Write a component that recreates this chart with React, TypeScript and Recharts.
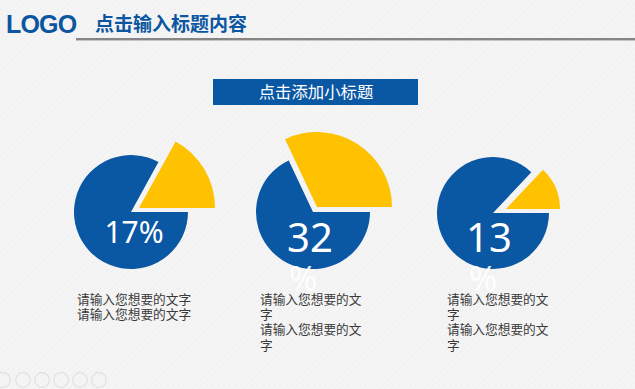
import { PieChart, Pie, Cell } from "recharts";

// values
const highlightShare = [17, 32, 13];
const restShare = [83, 68, 87];
const centerLabels = ["17%", "32", "13"];
const captionLines = [
  ["请输入您想要的文字", "请输入您想要的文字"],
  ["请输入您想要的文", "字", "请输入您想要的文", "字"],
  ["请输入您想要的文", "字", "请输入您想要的文", "字"],
];

const W = 635;
const H = 389;
const BLUE = "#0a57a4";
const YELLOW = "#fec200";

// geometry of each pie (blue body + exploded yellow slice)
const layout = [
  { cx: 131, cy: 212, r: 57, dx: 8, dy: -4, rHi: 76, labelX: 134, labelY: 243, labelSize: 30, ghostX: 0 },
  { cx: 313, cy: 212, r: 57, dx: 4, dy: -5, rHi: 75, labelX: 310, labelY: 252, labelSize: 40, ghostX: 289 },
  { cx: 493, cy: 213, r: 56, dx: 13, dy: -4, rHi: 54, labelX: 489, labelY: 252, labelSize: 40, ghostX: 469 },
];

const captionX = [77, 260, 447];
const navX = [3, 23, 42, 61, 80, 99];

export default function App() {
  const pies = highlightShare.map((v, i) => [
    { name: "highlight", value: v },
    { name: "rest", value: restShare[i] },
  ]);

  return (
    <div
      style={{
        position: "fixed",
        left: 0,
        top: 0,
        width: W,
        height: H,
        overflow: "hidden",
        background: "repeating-linear-gradient(135deg, #f5f5f5 0px, #f5f5f5 2px, #f2f2f2 2px, #f2f2f2 4px)",
      }}
    >
      <PieChart
        width={W}
        height={H}
        margin={{ top: 0, right: 0, bottom: 0, left: 0 }}
        style={{ position: "absolute", left: 0, top: 0 }}
      >
        {pies.flatMap((data, i) => {
          const g = layout[i];
          return [
            <Pie
              key={"body" + i}
              data={data}
              dataKey="value"
              cx={g.cx}
              cy={g.cy}
              outerRadius={g.r}
              innerRadius={0}
              startAngle={0}
              endAngle={360}
              stroke="none"
              isAnimationActive={false}
            >
              <Cell fill="transparent" />
              <Cell fill={BLUE} />
            </Pie>,
            <Pie
              key={"hi" + i}
              data={data}
              dataKey="value"
              cx={g.cx + g.dx}
              cy={g.cy + g.dy}
              outerRadius={g.rHi}
              innerRadius={0}
              startAngle={0}
              endAngle={360}
              stroke="none"
              isAnimationActive={false}
            >
              <Cell fill={YELLOW} />
              <Cell fill="transparent" />
            </Pie>,
          ];
        })}
      </PieChart>

      <svg
        width={W}
        height={H}
        style={{ position: "absolute", left: 0, top: 0, pointerEvents: "none" }}
      >
        {/* header */}
        <text x={6} y={33} fontFamily="'Liberation Sans', Arial, sans-serif" fontWeight={700} fontSize={25} fill="#0b56a0" letterSpacing={-0.8}>
          LOGO
        </text>
        <text x={95} y={31} fontFamily="'Noto Sans CJK SC', sans-serif" fontWeight={700} fontSize={19} fill="#0b56a0">
          点击输入标题内容
        </text>
        <rect x={76} y={38} width={W - 76} height={2} fill="#858585" />
        <rect x={76} y={40} width={W - 76} height={1} fill="#c4c4c4" />

        {/* sub title box */}
        <rect x={213} y={79} width={205} height={26} fill={BLUE} />
        <text x={316} y={98} textAnchor="middle" fontFamily="'Noto Sans CJK SC', sans-serif" fontSize={16.4} fill="#ffffff">
          点击添加小标题
        </text>

        {/* values on the pies */}
        {layout.map((g, i) => (
          <text
            key={"lab" + i}
            x={g.labelX}
            y={g.labelY}
            textAnchor="middle"
            fontFamily="'Noto Sans', sans-serif"
            fontSize={g.labelSize}
            fill="#ffffff"
          >
            {centerLabels[i]}
          </text>
        ))}
        {layout
          .filter((g) => g.ghostX > 0)
          .map((g, i) => (
            <text key={"ghost" + i} x={g.ghostX} y={291} fontFamily="'Noto Sans', sans-serif" fontSize={34} fill="#ffffff" opacity={0.9}>
              %
            </text>
          ))}

        {/* captions */}
        {captionLines.map((lines, i) => (
          <text
            key={"cap" + i}
            x={captionX[i]}
            y={304}
            fontFamily="'Noto Sans CJK SC', sans-serif"
            fontSize={12.7}
            fill="#3a3a3a"
          >
            {lines.map((line, j) => (
              <tspan key={j} x={captionX[i]} dy={j === 0 ? 0 : 15.2}>
                {line}
              </tspan>
            ))}
          </text>
        ))}

        {/* slideshow controls */}
        {navX.map((x, i) => (
          <circle key={"nav" + i} cx={x} cy={380} r={7.3} fill="none" stroke="#e0e0e0" strokeWidth={1.2} />
        ))}
      </svg>
    </div>
  );
}
